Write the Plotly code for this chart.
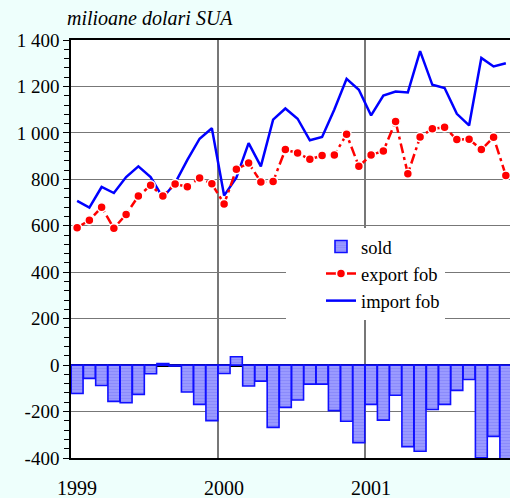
import plotly.graph_objects as go

months = list(range(36))
year_labels = ["1999", "2000", "2001"]
year_ticks = [0, 12, 24]
year_bounds = [-0.5, 11.5, 23.5, 35.5]

sold = [-122, -57, -88, -156, -162, -126, -37, 7, -4, -116, -169, -239,
        -36, 36, -90, -69, -268, -182, -150, -82, -82, -196, -242, -334,
        -169, -237, -130, -351, -371, -191, -169, -109, -62, -399, -307, -423]
export_fob = [592, 624, 680, 589, 649, 728, 774, 728, 780, 768, 806, 781,
              694, 843, 870, 789, 791, 928, 913, 886, 903, 905, 994, 856,
              905, 922, 1049, 824, 982, 1018, 1024, 971, 973, 928, 981, 817]
import_fob = [707, 678, 767, 741, 810, 856, 810, 721, 784, 884, 975, 1020,
              730, 807, 956, 856, 1057, 1105, 1061, 968, 982, 1101, 1233, 1186,
              1075, 1161, 1178, 1174, 1352, 1207, 1193, 1082, 1032, 1323, 1286, 1300]

y_ticks = [-400, -200, 0, 200, 400, 600, 800, 1000, 1200, 1400]
y_labels = ["-400", "-200", "0", "200", "400", "600", "800", "1 000", "1 200", "1 400"]

FONT = "Liberation Serif"

fig = go.Figure()
fig.add_trace(go.Bar(
    x=months, y=sold, name="sold", legendrank=1,
    marker=dict(color="#8c8cff", line=dict(color="#1010ff", width=1.6),
                pattern=dict(shape="-", fgcolor="#7a7af8", bgcolor="#9c9cff",
                             size=3, solidity=0.4)),
))
fig.add_trace(go.Scatter(
    x=months, y=import_fob, name="import fob", legendrank=3, mode="lines",
    line=dict(color="#0000ff", width=2.5),
))
fig.add_trace(go.Scatter(
    x=months, y=export_fob, name="export fob", legendrank=2, mode="lines+markers",
    line=dict(color="#ff0000", width=2.5, dash="10px,4px,3px,4px"),
    marker=dict(color="#ff0000", size=9, line=dict(color="white", width=1.5)),
))

fig.update_layout(
    width=510, height=498,
    margin=dict(l=71, r=0, t=40, b=40, autoexpand=False),
    paper_bgcolor="#eefffc", plot_bgcolor="white",
    font=dict(family=FONT, size=19, color="black"),
    bargap=0.03,
    showlegend=True,
    title=dict(text="milioane dolari SUA", x=67/510, xanchor="left",
               y=1 - 18/498, yanchor="middle", automargin=False,
               font=dict(family=FONT, size=20, style="italic")),
    legend=dict(x=(286-71)/439, y=(458-228)/418, xanchor="left", yanchor="top",
                bgcolor="white", borderwidth=0, indentation=35,
                font=dict(family=FONT, size=18.5), tracegroupgap=0),
)
fig.update_xaxes(
    range=[-0.5, 35.34], tickmode="array", tickvals=year_ticks, ticktext=year_labels,
    ticks="", ticklabelstandoff=11, showgrid=False, zeroline=False, automargin=False,
    tickfont=dict(size=20),
    showline=True, linecolor="black", linewidth=1.5, mirror=True,
    minor=dict(tickmode="array", tickvals=year_bounds, showgrid=True,
               gridcolor="#777777", gridwidth=1.5, ticks=""),
)
fig.update_yaxes(
    range=[-400, 1400], tickmode="array", tickvals=y_ticks, ticktext=y_labels,
    ticks="outside", ticklen=6, tickcolor="black", tickwidth=1.2, automargin=False,
    showgrid=True, gridcolor="#777777", gridwidth=1.2,
    zeroline=True, zerolinecolor="black", zerolinewidth=2.5,
    showline=True, linecolor="black", linewidth=1.5,
    minor=dict(dtick=40, tick0=0, ticks="outside", ticklen=5, tickcolor="black",
               showgrid=False),
)

fig.write_html("out.html",
               config={"displayModeBar": False},
               post_script="document.body.style.margin='0px';"
                           "document.body.style.overflow='hidden';")
